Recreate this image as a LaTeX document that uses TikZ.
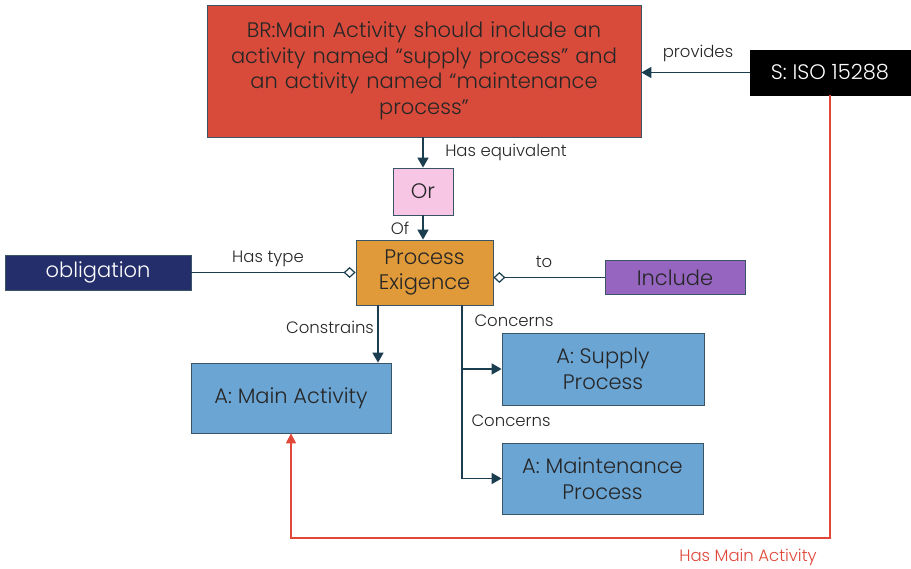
\documentclass[tikz,border=0pt]{standalone}
\usepackage{fontspec}
\setmainfont{Poppins}[UprightFont=* Light]
\usetikzlibrary{arrows.meta,calc}
\definecolor{brred}{HTML}{D84B3B}
\definecolor{orpink}{HTML}{F6C6E4}
\definecolor{peorange}{HTML}{E09A3A}
\definecolor{oblnavy}{HTML}{232E6B}
\definecolor{incpurple}{HTML}{9565C0}
\definecolor{actblue}{HTML}{6BA5D4}
\definecolor{conn}{HTML}{1B3D50}
\definecolor{bord}{HTML}{3A5566}
\definecolor{redline}{HTML}{E0483A}
\tikzset{
  box/.style={draw=bord, line width=0.8pt, align=center, inner sep=2pt, font=\fontsize{21}{25.5}\selectfont, text=black!85},
  lbl/.style={font=\fontsize{16.5}{18}\selectfont, text=black!85, inner sep=0pt},
  arr/.style={draw=conn, line width=1.6pt, -{Triangle[length=10pt,width=11pt]}},
  dia/.style={draw=conn, line width=1.6pt, -{Diamond[open,fill=white,length=12pt,width=11pt,line width=1.2pt]}},
  redarr/.style={draw=redline, line width=1.4pt, -{Triangle[length=10pt,width=10pt]}},
}
\begin{document}
\begin{tikzpicture}[x=1pt,y=-1pt]
\useasboundingbox[fill=white] (0,0) rectangle (911,569);
\node[box, fill=brred, minimum width=434pt, minimum height=132pt, text width=425pt] (BR) at (424,71)
  {BR:Main Activity should include an\\activity named “supply process” and\\an activity named “maintenance\\process”};
\node[box, fill=black, draw=black, text=white, minimum width=160pt, minimum height=45pt] (S) at (830,72.5) {S: ISO 15288};
\node[box, fill=orpink, minimum width=60pt, minimum height=47pt] (Or) at (423,191.5) {Or};
\node[box, fill=peorange, minimum width=137pt, minimum height=65pt] (PE) at (424.5,272.5) {Process\\Exigence};
\node[box, fill=oblnavy, text=white, minimum width=186pt, minimum height=35pt] (Obl) at (98,272.5) {obligation};
\node[box, fill=incpurple, minimum width=140pt, minimum height=34pt] (Inc) at (675,277.5) {Include};
\node[box, fill=actblue, minimum width=200pt, minimum height=70pt] (MA) at (291,398) {A: Main Activity};
\node[box, fill=actblue, minimum width=202pt, minimum height=72pt] (Sup) at (603,369) {A: Supply\\Process};
\node[box, fill=actblue, minimum width=201pt, minimum height=71pt] (Mnt) at (602.5,478.5) {A: Maintenance\\Process};

\coordinate (cons) at (378,305);
\coordinate (conc) at (462,305);
\coordinate (bot) at (0,538);

\draw[arr] (S.west) -- (S.west -| BR.east);
\draw[arr] (Or.north |- BR.south) -- (Or.north);
\draw[arr] (Or.south) -- (Or.south |- PE.north);
\draw[dia] (Obl.east) -- (Obl.east -| PE.west);
\draw[dia] (Inc.west) -- (Inc.west -| PE.east);
\draw[arr] (cons) -- (cons |- MA.north);
\draw[arr] (conc) |- (Mnt.west);
\draw[arr] (conc |- Sup.west) -- (Sup.west);
\draw[redarr] (S.south) -- (S.south |- bot) -| (MA.south);

\node[lbl] (lprov) at (698,53) {provides};
\node[lbl] (lequ) at (506,152) {Has equivalent};
\node[lbl] (lof) at (400,228) {Of};
\node[lbl] (ltype) at (268,259) {Has type};
\node[lbl] (lto) at (544,262) {to};
\node[lbl] (lcons) at (330,327) {Constrains};
\node[lbl] (lconc1) at (514,321) {Concerns};
\node[lbl] (lconc2) at (511,421) {Concerns};
\node[lbl, text=redline] (lhma) at (748,557) {Has Main Activity};
\end{tikzpicture}
\end{document}
